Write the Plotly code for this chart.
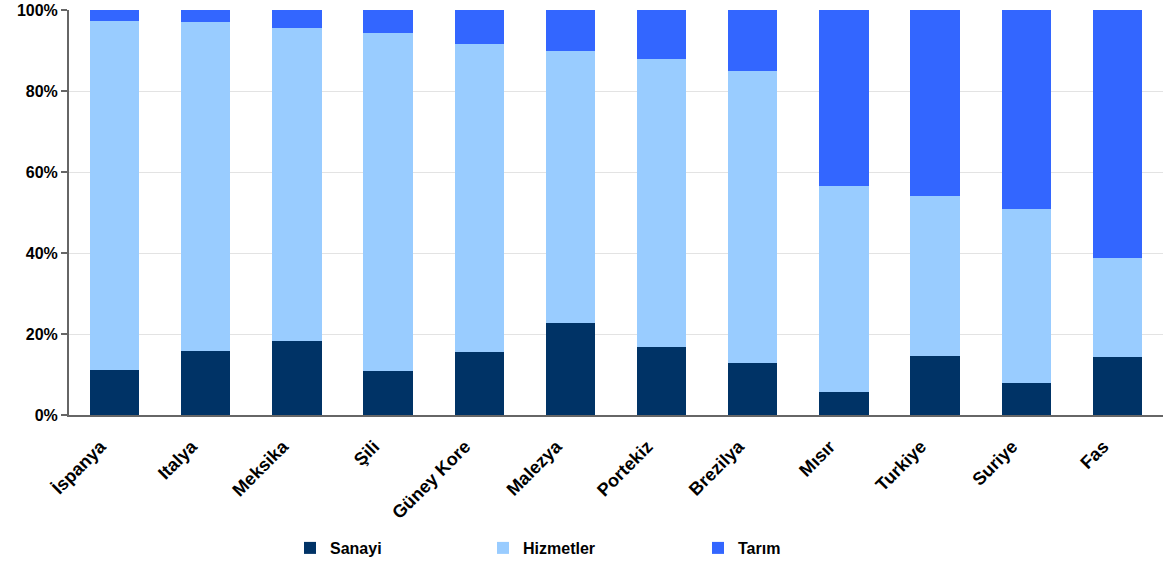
import plotly.graph_objects as go

countries = ["İspanya", "Italya", "Meksika", "Şili", "Güney Kore", "Malezya",
             "Portekiz", "Brezilya", "Mısır", "Turkiye", "Suriye", "Fas"]
sanayi = [11.1, 15.8, 18.3, 10.9, 15.6, 22.7, 16.8, 12.8, 5.7, 14.6, 7.9, 14.3]
hizmetler = [86.2, 81.2, 77.3, 83.4, 76.0, 67.2, 71.1, 72.1, 50.8, 39.5, 43.0, 24.5]
tarim = [2.7, 3.0, 4.4, 5.7, 8.4, 10.1, 12.1, 15.1, 43.5, 45.9, 49.1, 61.2]

font_family = "Liberation Sans, Arial, sans-serif"

fig = go.Figure()
fig.add_trace(go.Bar(x=countries, y=sanayi, name="<b>Sanayi</b>", showlegend=True,
                     marker=dict(color="#003366", line=dict(width=0)), legend="legend"))
fig.add_trace(go.Bar(x=countries, y=hizmetler, name="<b>Hizmetler</b>", showlegend=True,
                     marker=dict(color="#99CCFF", line=dict(width=0)), legend="legend2"))
fig.add_trace(go.Bar(x=countries, y=tarim, name="<b>Tarım</b>", showlegend=True,
                     marker=dict(color="#3366FF", line=dict(width=0)), legend="legend3"))

W = 1094.0
L0 = 69.0
def lx(px):
    return (px - L0) / W

leg_common = dict(orientation="h", yanchor="middle", y=-0.329, xanchor="left",
                  font=dict(family=font_family, size=16, color="#000000"),
                  bgcolor="rgba(0,0,0,0)", itemclick=False, itemdoubleclick=False)

fig.update_layout(
    width=1163, height=565,
    margin=dict(l=69, r=0, t=10, b=150),
    barmode="stack",
    bargap=0.46,
    showlegend=True,
    plot_bgcolor="white",
    paper_bgcolor="white",
    font=dict(family=font_family, size=16, color="#000000"),
    legend=dict(x=lx(290), **leg_common),
    legend2=dict(x=lx(483), **leg_common),
    legend3=dict(x=lx(698), **leg_common),
    xaxis=dict(
        tickangle=-45,
        tickfont=dict(family=font_family, size=18, color="#000000", weight="bold"),
        ticklabelstandoff=12,
        ticklabelshift=-14,
        showline=True, linecolor="#666666", linewidth=2,
        ticks="", showgrid=False,
    ),
    yaxis=dict(
        range=[0, 100],
        tickvals=[0, 20, 40, 60, 80, 100],
        ticktext=["0%", "20%", "40%", "60%", "80%", "100%"],
        tickfont=dict(family=font_family, size=16, color="#000000", weight="bold"),
        showline=True, linecolor="#666666", linewidth=2,
        ticks="outside", ticklen=6, tickcolor="#666666", tickwidth=2,
        showgrid=True, gridcolor="#E3E3E3", gridwidth=1,
        zeroline=False,
    ),
)

fig.write_html("out.html")
